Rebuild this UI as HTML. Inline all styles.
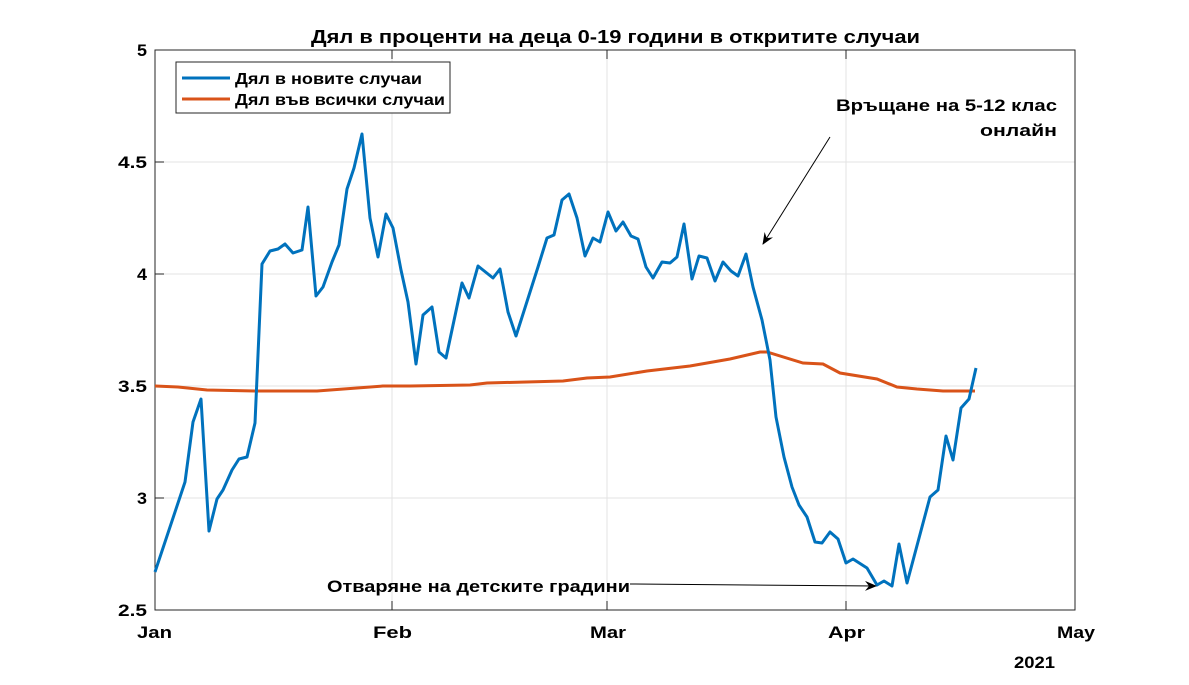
<!DOCTYPE html>
<html><head><meta charset="utf-8"><style>body{margin:0;background:#fff}svg{display:block}text{font-family:"Liberation Sans","DejaVu Sans",sans-serif;font-weight:bold;fill:#000}</style></head><body>
<svg width="1189" height="685" viewBox="0 0 1189 685">
<defs><marker id="ah" markerWidth="12" markerHeight="10" refX="11" refY="5" orient="auto" markerUnits="userSpaceOnUse"><path d="M0,0 L12,5 L0,10 L4,5 Z" fill="#000"/></marker></defs>
<g stroke="#e3e3e3" stroke-width="1">
<line x1="392" y1="50" x2="392" y2="610"/><line x1="607" y1="50" x2="607" y2="610"/><line x1="846" y1="50" x2="846" y2="610"/>
<line x1="155" y1="162" x2="1075" y2="162"/><line x1="155" y1="274" x2="1075" y2="274"/><line x1="155" y1="386" x2="1075" y2="386"/><line x1="155" y1="498" x2="1075" y2="498"/>
</g>
<rect x="155" y="50" width="920" height="560" fill="none" stroke="#262626" stroke-width="1"/>
<g stroke="#262626"><line x1="392" y1="610" x2="392" y2="601"/><line x1="607" y1="610" x2="607" y2="601"/><line x1="846" y1="610" x2="846" y2="601"/><line x1="392" y1="50" x2="392" y2="59"/><line x1="607" y1="50" x2="607" y2="59"/><line x1="846" y1="50" x2="846" y2="59"/>
<line x1="155" y1="162" x2="164" y2="162"/><line x1="155" y1="274" x2="164" y2="274"/><line x1="155" y1="386" x2="164" y2="386"/><line x1="155" y1="498" x2="164" y2="498"/></g>
<polyline fill="none" stroke="#d95319" stroke-width="3" points="155,386 178,387 207,390 255,391 317,391 383,386 410,386 470,385 487,383 563,381 587,378 610,377 647,371 690,366 730,359 760,352 767,352 803,363 823,364 840,373 877,379 897,387 917,389 943,391 975,391"/>
<polyline fill="none" stroke="#0072bd" stroke-width="3" stroke-linejoin="round" points="155,572 185,482 193,422 201,399 209,531 217,499 223,490 232,470 239,459 247,457 255,423 262,264 270,251 278,249 285,244 293,253 302,250 308,207 316,296 323,287 332,262 339,245 347,189 354,168 362,134 370,218 378,257 386,214 393,228 401,270 408,302 416,364 423,315 432,307 439,352 446,358 462,283 469,298 478,266 493,278 500,269 508,312 516,336 538,267 547,238 554,235 562,200 569,194 577,218 585,256 593,238 600,242 608,212 616,231 623,222 631,236 638,239 646,267 653,278 662,262 670,263 677,257 684,224 692,279 699,256 707,258 715,281 723,262 731,271 738,276 746,254 753,287 762,320 770,360 776,417 784,457 792,487 799,505 807,517 815,542 822,543 830,532 838,539 846,563 853,559 867,568 877,585 884,581 892,586 899,544 907,583 930,497 938,490 946,436 953,460 961,408 969,399 976,368"/>
<text x="311" y="43" font-size="18" textLength="609" lengthAdjust="spacingAndGlyphs">Дял в проценти на деца 0-19 години в откритите случаи</text>
<g font-size="17"><text x="137" y="56" textLength="10" lengthAdjust="spacingAndGlyphs">5</text><text x="118" y="168" textLength="29" lengthAdjust="spacingAndGlyphs">4.5</text><text x="137" y="280" textLength="10" lengthAdjust="spacingAndGlyphs">4</text><text x="118" y="392" textLength="29" lengthAdjust="spacingAndGlyphs">3.5</text><text x="137" y="504" textLength="10" lengthAdjust="spacingAndGlyphs">3</text><text x="118" y="616" textLength="29" lengthAdjust="spacingAndGlyphs">2.5</text></g>
<g font-size="17"><text x="137" y="638" textLength="35" lengthAdjust="spacingAndGlyphs">Jan</text><text x="373" y="638" textLength="39" lengthAdjust="spacingAndGlyphs">Feb</text><text x="590" y="638" textLength="36" lengthAdjust="spacingAndGlyphs">Mar</text><text x="828" y="638" textLength="37" lengthAdjust="spacingAndGlyphs">Apr</text><text x="1057" y="638" textLength="38" lengthAdjust="spacingAndGlyphs">May</text></g>
<text x="1014" y="668" font-size="17" textLength="41" lengthAdjust="spacingAndGlyphs">2021</text>
<rect x="176" y="62" width="274" height="51" fill="#fff" stroke="#262626"/>
<line x1="182" y1="78" x2="230" y2="78" stroke="#0072bd" stroke-width="3"/><line x1="182" y1="99" x2="230" y2="99" stroke="#d95319" stroke-width="3"/>
<text x="235" y="84" font-size="16" textLength="187" lengthAdjust="spacingAndGlyphs">Дял в новите случаи</text><text x="235" y="105" font-size="16" textLength="210" lengthAdjust="spacingAndGlyphs">Дял във всички случаи</text>
<text x="836" y="111" font-size="17" textLength="221" lengthAdjust="spacingAndGlyphs">Връщане на 5-12 клас</text>
<text x="980" y="136" font-size="17" textLength="77" lengthAdjust="spacingAndGlyphs">онлайн</text>
<line x1="830" y1="137" x2="763" y2="244" stroke="#000" stroke-width="1" marker-end="url(#ah)"/>
<text x="327" y="592" font-size="17" textLength="303" lengthAdjust="spacingAndGlyphs">Отваряне на детските градини</text>
<line x1="630" y1="584" x2="876" y2="586" stroke="#000" stroke-width="1" marker-end="url(#ah)"/>
</svg>
</body></html>
